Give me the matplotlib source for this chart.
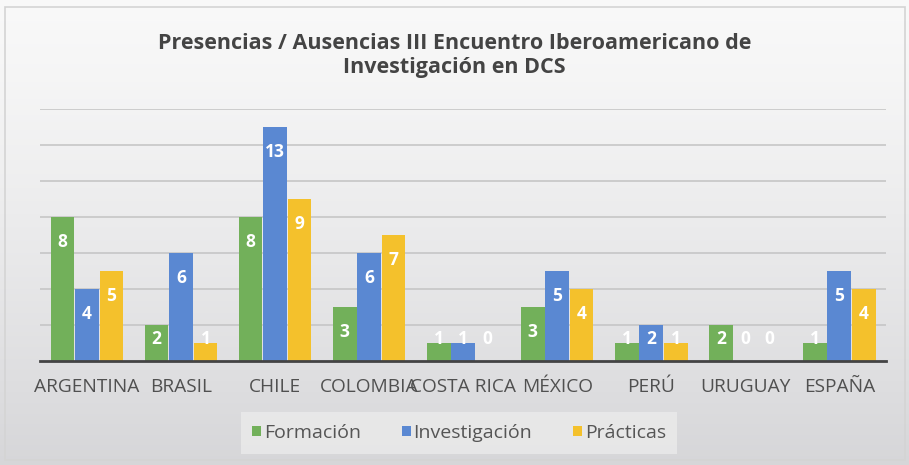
import numpy as np
import matplotlib.pyplot as plt
from matplotlib.patches import Rectangle

# Data
countries = ["ARGENTINA", "BRASIL", "CHILE", "COLOMBIA", "COSTA RICA",
             "MÉXICO", "PERÚ", "URUGUAY", "ESPAÑA"]
formacion = [8, 2, 8, 3, 1, 3, 1, 2, 1]
investigacion = [4, 6, 13, 6, 1, 5, 2, 0, 5]
practicas = [5, 1, 9, 7, 0, 4, 1, 0, 4]

series_names = ["Formación", "Investigación", "Prácticas"]
series_colors = ["#72b05a", "#5a88d2", "#f4c12c"]

plt.rcParams["font.family"] = ["Open Sans", "DejaVu Sans"]

fig = plt.figure(figsize=(9.09, 4.65), dpi=100)

# gradient background over the whole figure
bg = fig.add_axes([0, 0, 1, 1], zorder=-10)
grad = np.linspace(0, 1, 256).reshape(-1, 1)
top_c = np.array([0.975, 0.975, 0.975])
bot_c = np.array([0.84, 0.84, 0.85])
img = top_c + (bot_c - top_c) * grad[..., None] ** 1.3
bg.imshow(img, aspect="auto", extent=[0, 1, 0, 1])
bg.add_patch(Rectangle((0.006, 0.011), 0.99, 0.975, transform=bg.transAxes,
                       fill=False, ec="#d4d4d4", lw=1.2))
bg.axis("off")

ax = fig.add_axes([0.044, 0.224, 0.931, 0.542])
ax.patch.set_alpha(0)

x = np.arange(len(countries))
w = 0.26
data = [formacion, investigacion, practicas]
for i, (vals, name, col) in enumerate(zip(data, series_names, series_colors)):
    pos = x + (i - 1) * w
    ax.bar(pos, vals, width=w * 0.97, color=col, label=name, zorder=3)
    for px, v in zip(pos, vals):
        ly = max(v - 1.4, 1.23)
        ax.text(px, ly, str(v), ha="center", va="center", color="white",
                fontsize=12.5, fontweight="bold", zorder=4)

ax.set_xlim(-0.5, len(countries) - 0.5)
ax.set_ylim(0, 14)
ax.set_yticks(np.arange(2, 15, 2))
ax.yaxis.grid(True, color="#c6c6c6", lw=1.2, zorder=0)
ax.tick_params(axis="y", left=False, labelleft=False)
ax.set_xticks(x)
ax.set_xticklabels(countries, fontsize=13.8, color="#505050")
ax.tick_params(axis="x", length=0, pad=12)
for s in ["top", "right", "left"]:
    ax.spines[s].set_visible(False)
ax.spines["bottom"].set_color("#444444")
ax.spines["bottom"].set_linewidth(2)
ax.spines["bottom"].set_zorder(5)

fig.text(0.5, 0.88, "Presencias / Ausencias III Encuentro Iberoamericano de\nInvestigación en DCS",
         ha="center", va="center", fontsize=15.5, fontweight="bold", color="#444444",
         linespacing=1.2)

leg = fig.legend(loc="center", bbox_to_anchor=(0.505, 0.069), ncol=3, frameon=True,
                 fontsize=14, handlelength=0.45, handleheight=0.45, handletextpad=0.15,
                 columnspacing=2.1, borderpad=0.6, fancybox=False)
leg.get_frame().set_facecolor("#ebebeb")
leg.get_frame().set_edgecolor("none")
for t in leg.get_texts():
    t.set_color("#555555")

fig.savefig("out.png", dpi=100)
